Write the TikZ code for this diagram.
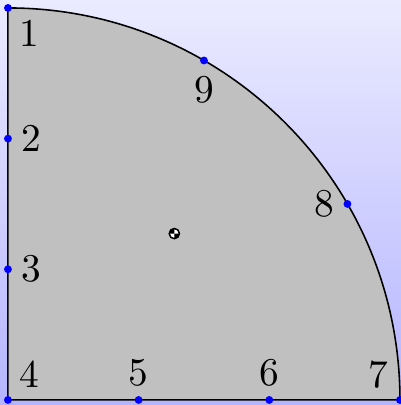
\documentclass[tikz,border=0pt]{standalone}
\usepackage{tikz}
\usetikzlibrary{positioning}
\definecolor{bgtop}{RGB}{235,235,255}
\definecolor{bgbottom}{RGB}{180,180,255}
\definecolor{regiongray}{RGB}{192,192,192}

\begin{document}
\begin{tikzpicture}[
  dot/.style={circle, fill=blue, inner sep=0pt, minimum size=2pt},
  num/.style={font=\normalsize, inner sep=2pt},
  region/.style={draw=black, fill=regiongray, line width=0.4pt},
  centroid/.style={draw=black, fill=white, line width=0.3pt}
]
\def\R{3.5}
% background and bounding box
\path[use as bounding box, top color=bgtop, bottom color=bgbottom]
  (-0.071,-0.045) rectangle (3.509,3.571);

% quarter disc
\path[region] (0,0) -- (\R,0) arc (0:90:\R) -- cycle;

% points on the boundary
\node[dot] (p1) at (0,\R) {};
\node[dot] (p2) at (0,2*\R/3) {};
\node[dot] (p3) at (0,\R/3) {};
\node[dot] (p4) at (0,0) {};
\node[dot] (p5) at (\R/3,0) {};
\node[dot] (p6) at (2*\R/3,0) {};
\node[dot] (p7) at (\R,0) {};
\node[dot] (p8) at (30:\R) {};
\node[dot] (p9) at (60:\R) {};

\node[num, below right=0pt of p1] (l1) {1};
\node[num, right=0pt of p2] (l2) {2};
\node[num, right=0pt of p3] (l3) {3};
\node[num, above right=0pt of p4] (l4) {4};
\node[num, above=0pt of p5] (l5) {5};
\node[num, above=0pt of p6] (l6) {6};
\node[num, above left=0pt of p7] (l7) {7};
\node[num, left=0pt of p8] (l8) {8};
\node[num, below=0.5pt of p9] (l9) {9};

% centroid
\coordinate (c) at ({4*\R/(3*pi)},{4*\R/(3*pi)});
\path[centroid] (c) circle (1.3pt);
\fill[black] (c) -- ++(90:1.3pt) arc (90:180:1.3pt) -- cycle;
\fill[black] (c) -- ++(270:1.3pt) arc (270:360:1.3pt) -- cycle;
\draw[line width=0.3pt] (c) circle (1.3pt);
\end{tikzpicture}
\end{document}
